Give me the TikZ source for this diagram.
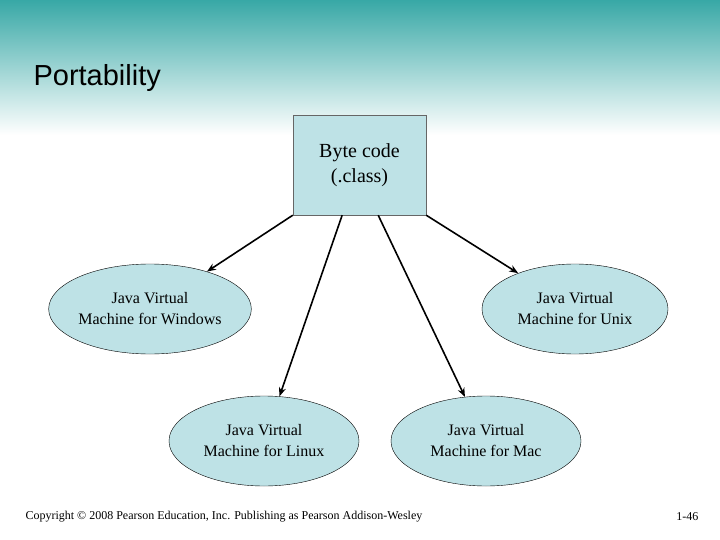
\documentclass[tikz,border=0pt]{standalone}
\usepackage{fontspec}
\setmainfont{Liberation Serif}
\newfontfamily\titlefont{Liberation Sans}
\usetikzlibrary{shapes.geometric,arrows.meta,calc}
\definecolor{teal1}{RGB}{56,168,166}
\definecolor{boxfill}{RGB}{190,226,230}
\tikzset{
  vm/.style={ellipse,draw=black,fill=boxfill,minimum width=190pt,minimum height=90pt,align=center,font=\fontsize{16}{21}\selectfont,inner sep=0pt},
  conn/.style={draw=black,line width=1.6pt,-{Stealth[length=9pt,width=7pt]}}
}
\begin{document}
\begin{tikzpicture}[x=1pt,y=-1pt]
\useasboundingbox (0,0) rectangle (720,540);
\fill[white] (0,0) rectangle (720,540);
\shade[top color=teal1,bottom color=white] (0,0) rectangle (720,135);
\node[anchor=west,font=\titlefont\fontsize{29}{34}\selectfont] (title) at (30,78) {Portability};
\node[draw=gray!80!black,fill=boxfill,minimum width=133pt,minimum height=100pt,align=center,font=\fontsize{20}{25}\selectfont] (box) at (359.5,165) {Byte code\\(.class)};
\node[vm] (win) at (150,309) {Java Virtual\\Machine for Windows};
\node[vm,minimum width=186pt] (unix) at (575,309) {Java Virtual\\Machine for Unix};
\node[vm] (linux) at (264,441) {Java Virtual\\Machine for Linux};
\node[vm] (mac) at (486,441) {Java Virtual\\Machine for Mac};
\draw[conn] (box.south west) -- (win);
\draw[conn] ($(box.south west)!0.37!(box.south east)$) -- (linux);
\draw[conn] ($(box.south west)!0.64!(box.south east)$) -- (mac);
\draw[conn] (box.south east) -- (unix);
\node[anchor=west,font=\fontsize{12}{14}\selectfont] (copy) at (22,517) {Copyright © 2008 Pearson Education, Inc. Publishing as Pearson Addison-Wesley};
\node[anchor=east,font=\fontsize{12}{14}\selectfont] (page) at (702,517) {1-46};
\end{tikzpicture}
\end{document}
